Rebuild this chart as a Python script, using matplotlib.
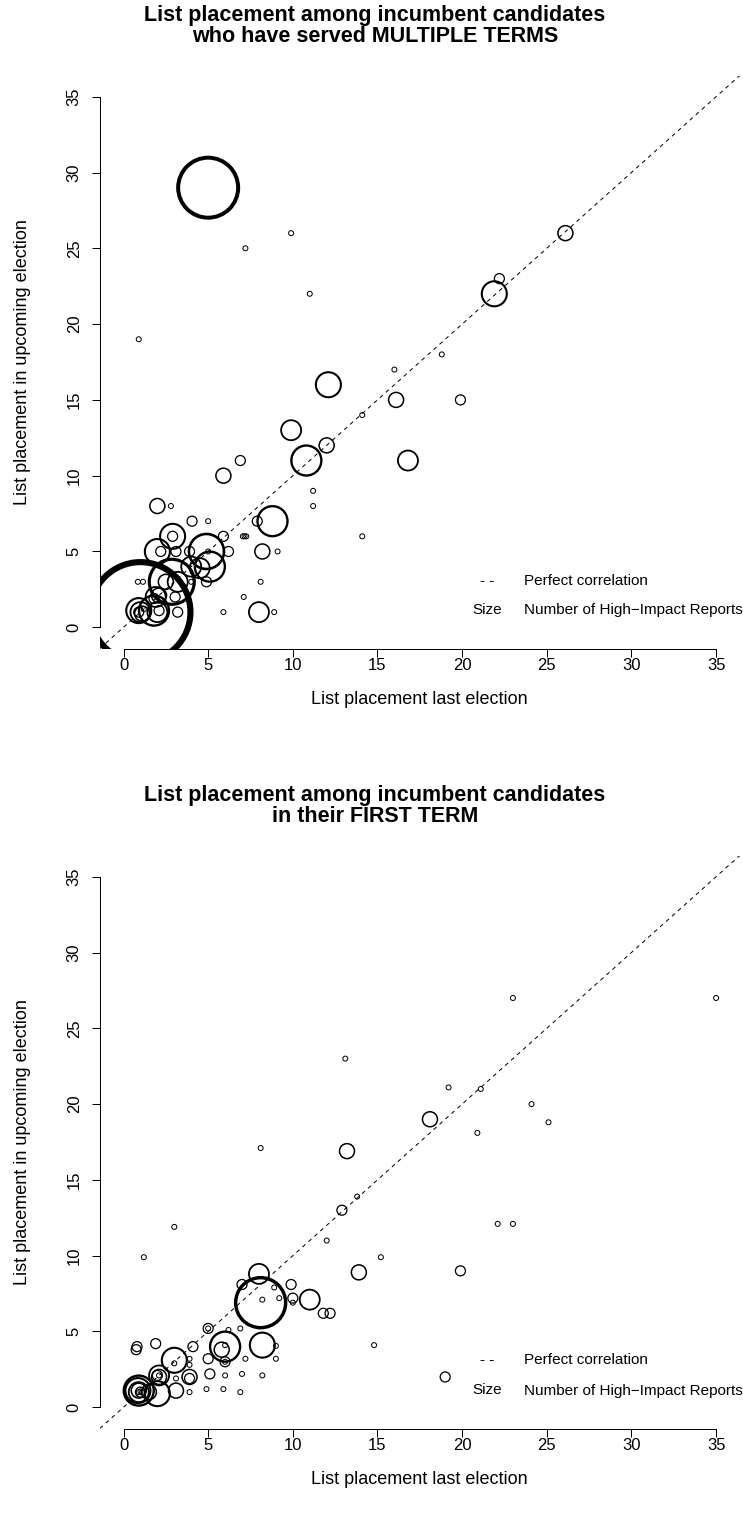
import matplotlib
matplotlib.use('Agg')
import matplotlib.pyplot as plt

# Candidates who have served multiple terms
multi_last = [5.0, 26.1, 22.2, 21.9, 11.0, 7.2, 9.9, 0.9, 18.8, 16.0,
              12.1, 16.1, 19.9, 14.1, 9.9, 12.0, 10.8, 16.8, 6.9, 5.9,
              11.2, 11.2, 14.1, 2.0, 2.8, 8.8, 7.9, 4.05, 5.0, 7.05,
              7.15, 7.25, 5.9, 2.9, 2.9, 2.0, 2.2, 3.1, 3.9, 4.9,
              5.0, 6.2, 8.2, 9.1, 4.0, 4.5, 5.1, 4.9, 4.0, 8.1,
              0.85, 1.15, 2.85, 2.5, 3.2, 3.05, 1.9, 2.1, 1.8, 2.2,
              7.1, 0.9, 1.8, 1.0, 1.0, 1.1, 0.9, 1.2, 2.0, 2.1,
              3.2, 5.9, 8.0, 8.9]
multi_next = [29.0, 26.0, 23.0, 22.0, 22.0, 25.0, 26.0, 19.0, 18.0, 17.0,
              16.0, 15.0, 15.0, 14.0, 13.0, 12.0, 11.0, 11.0, 11.0, 10.0,
              9.0, 8.0, 6.0, 8.0, 8.0, 7.0, 7.0, 7.0, 7.0, 6.0,
              6.0, 6.0, 6.0, 6.0, 6.0, 5.0, 5.0, 5.0, 5.0, 5.0,
              5.0, 5.0, 5.0, 5.0, 4.0, 3.9, 4.0, 3.0, 3.0, 3.0,
              3.0, 3.0, 3.0, 3.0, 3.0, 2.0, 2.0, 2.1, 1.9, 1.8,
              2.0, 1.1, 1.1, 1.0, 1.0, 0.9, 1.0, 1.2, 1.0, 1.1,
              1.0, 1.0, 1.0, 1.0]
multi_reports = [11, 2, 1, 4, 0, 0, 0, 0, 0, 0,
                 4, 2, 1, 0, 3, 2, 5, 3, 1, 2,
                 0, 0, 0, 2, 0, 5, 1, 1, 0, 0,
                 0, 0, 1, 4, 1, 4, 1, 1, 1, 6,
                 0, 1, 2, 0, 3, 3, 5, 1, 0, 0,
                 0, 0, 8, 2, 3, 1, 3, 2, 1, 0,
                 0, 4, 5, 19, 3, 2, 1, 0, 3, 1,
                 1, 0, 3, 0]

# Candidates in their first term
first_last = [35.0, 23.0, 13.1, 19.2, 21.1, 24.1, 18.1, 25.1, 20.9, 8.1,
              13.2, 13.8, 12.9, 22.1, 23.0, 3.0, 12.0, 1.2, 15.2, 13.9,
              19.9, 8.0, 7.0, 9.9, 8.9, 8.1, 8.2, 9.2, 10.0, 10.0,
              11.0, 11.8, 12.2, 5.0, 5.0, 6.2, 6.9, 6.0, 5.8, 6.0,
              8.2, 9.0, 14.8, 5.0, 6.0, 6.0, 7.2, 9.0, 5.1, 6.0,
              7.0, 8.2, 4.9, 5.9, 6.9, 19.0, 0.8, 0.75, 1.9, 3.0,
              3.0, 4.1, 3.9, 3.9, 3.9, 3.9, 3.9, 2.1, 2.1, 2.0,
              2.1, 3.1, 3.1, 0.9, 0.85, 0.9, 0.9, 1.0, 0.9, 1.0,
              1.1, 2.0, 1.5]
first_next = [27.0, 27.0, 23.0, 21.1, 21.0, 20.0, 19.0, 18.8, 18.1, 17.1,
              16.9, 13.9, 13.0, 12.1, 12.1, 11.9, 11.0, 9.9, 9.9, 8.9,
              9.0, 8.8, 8.1, 8.1, 7.9, 6.9, 7.1, 7.2, 7.2, 6.9,
              7.1, 6.2, 6.2, 5.2, 5.2, 5.1, 5.2, 4.0, 3.8, 4.1,
              4.1, 4.05, 4.1, 3.2, 3.0, 3.0, 3.2, 3.2, 2.2, 2.1,
              2.2, 2.1, 1.2, 1.2, 1.0, 2.0, 4.0, 3.8, 4.2, 3.1,
              2.9, 4.0, 3.2, 2.8, 2.0, 1.9, 1.0, 2.1, 2.0, 2.1,
              2.1, 1.9, 1.1, 1.1, 1.1, 1.0, 1.1, 1.0, 1.0, 1.05,
              1.0, 0.9, 1.0]
first_reports = [0, 0, 0, 0, 0, 0, 2, 0, 0, 0,
                 2, 0, 1, 0, 0, 0, 0, 0, 0, 2,
                 1, 3, 1, 1, 0, 9, 0, 0, 1, 0,
                 3, 1, 1, 1, 0, 0, 0, 5, 2, 0,
                 4, 0, 0, 1, 1, 0, 0, 0, 1, 0,
                 0, 0, 0, 0, 0, 1, 1, 1, 1, 4,
                 0, 1, 0, 0, 2, 1, 0, 3, 2, 1,
                 0, 0, 2, 5, 4, 3, 2, 1, 0, 0,
                 0, 4, 2]

titles = ["List placement among incumbent candidates\nwho have served MULTIPLE TERMS",
          "List placement among incumbent candidates\nin their FIRST TERM"]
ticks = [0, 5, 10, 15, 20, 25, 30, 35]

W, H, DPI = 743, 1520, 100
plt.rcParams['font.family'] = ['Liberation Sans', 'DejaVu Sans']


def px(v):
    return v * 72.0 / DPI


def Panel(fig, top, xs, ys, reps, title):
    left, width, height = 99.8, 640.0, 573.0
    ax = fig.add_axes([left / W, 1 - (top + height) / H, width / W, height / H])
    ax.set_xlim(-1.4, 36.4)
    ax.set_ylim(-1.4, 36.4)

    ax.axline((0, 0), (1, 1), color='k', lw=px(1), ls=(0, (4, 4)))

    sizes = [px(5 + 5 * r) ** 2 for r in reps]
    widths = [px(1 + 0.27 * r) for r in reps]
    ax.scatter(xs, ys, s=sizes, facecolors='none', edgecolors='k', linewidths=widths)

    for s in ['top', 'right']:
        ax.spines[s].set_visible(False)
    for s in ['left', 'bottom']:
        ax.spines[s].set_bounds(0, 35)
        ax.spines[s].set_linewidth(px(1))
    ax.set_xticks(ticks)
    ax.set_yticks(ticks)
    ax.tick_params(direction='out', length=px(8), width=px(1), labelsize=12)
    ax.tick_params(axis='x', pad=px(2))
    ax.tick_params(axis='y', pad=px(10))
    plt.setp(ax.get_yticklabels(), rotation=90, va='center')
    ax.set_xlabel('List placement last election', fontsize=13, labelpad=px(18))
    ax.set_ylabel('List placement in upcoming election', fontsize=13, labelpad=px(36))

    fig.text(375 / W, 1 - (top - 50) / H, title, ha='center', va='center',
             fontsize=15.5, fontweight='bold', linespacing=1.0)

    lx = 524 / W
    fig.text(487 / W, 1 - (top + 505) / H, '- -', ha='center', va='center', fontsize=11)
    fig.text(lx, 1 - (top + 505) / H, 'Perfect correlation', ha='left', va='center', fontsize=11)
    fig.text(487 / W, 1 - (top + 535) / H, 'Size', ha='center', va='center', fontsize=11)
    fig.text(lx, 1 - (top + 535) / H, 'Number of High\u2212Impact Reports',
             ha='left', va='center', fontsize=11)
    return ax


fig = plt.figure(figsize=(W / DPI, H / DPI), dpi=DPI, facecolor='w')
Panel(fig, 75.5, multi_last, multi_next, multi_reports, titles[0])
Panel(fig, 855.5, first_last, first_next, first_reports, titles[1])
fig.savefig('out.png', dpi=DPI, facecolor='w')
